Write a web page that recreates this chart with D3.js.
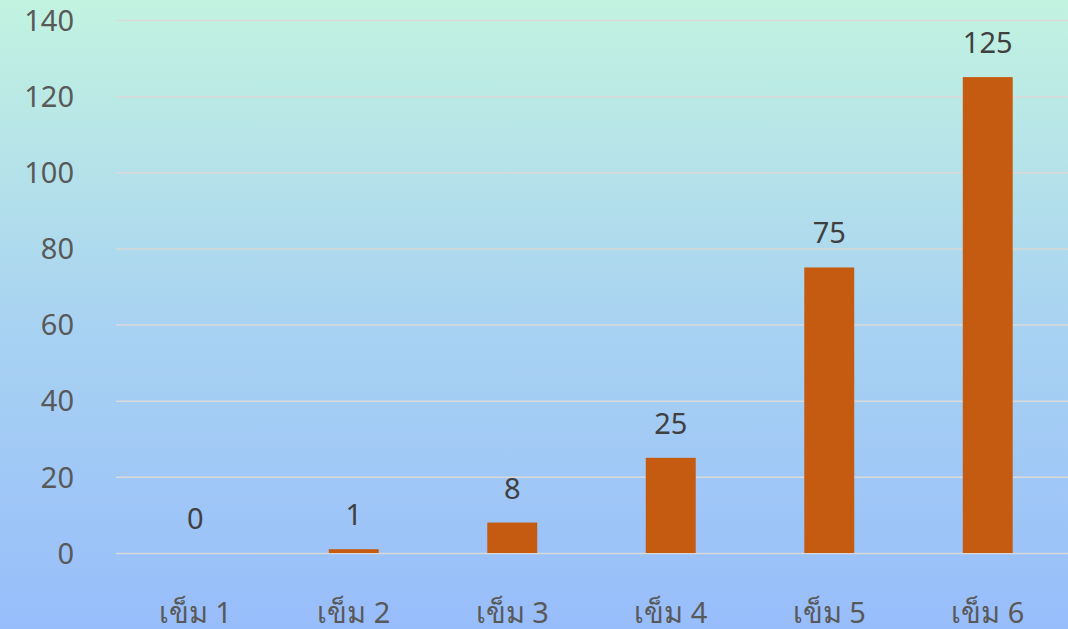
<!DOCTYPE html>
<html>
<head>
<meta charset="utf-8">
<script src="https://cdn.jsdelivr.net/npm/d3@7"></script>
<style>
  html, body { margin: 0; padding: 0; }
  body { width: 1068px; height: 629px; overflow: hidden; }
  svg { display: block; }
  text { font-family: "Noto Sans", "DejaVu Sans", sans-serif; }
</style>
</head>
<body>
<svg id="chart" width="1068" height="629"></svg>
<script>
const categories = ["เข็ม 1", "เข็ม 2", "เข็ม 3", "เข็ม 4", "เข็ม 5", "เข็ม 6"];
const values = [0, 1, 8, 25, 75, 125];
const yTicks = [0, 20, 40, 60, 80, 100, 120, 140];

const W = 1068, H = 629;
const margin = { top: 20, right: 1, bottom: 76, left: 116 };
const svg = d3.select("#chart");

const defs = svg.append("defs");
const grad = defs.append("linearGradient").attr("id", "bg")
  .attr("x1", 0).attr("y1", 0).attr("x2", 0).attr("y2", 1);
grad.append("stop").attr("offset", "0%").attr("stop-color", "#C2F3E0");
grad.append("stop").attr("offset", "50%").attr("stop-color", "#A9D3F1");
grad.append("stop").attr("offset", "100%").attr("stop-color", "#98BDFB");
svg.append("rect").attr("width", W).attr("height", H).attr("fill", "url(#bg)");

const x = d3.scaleBand().domain(categories)
  .range([margin.left, W - margin.right])
  .paddingInner(0.685).paddingOuter(0.3425);
const y = d3.scaleLinear().domain([0, 140]).range([H - margin.bottom, margin.top]);

// gridlines
const grid = svg.append("g")
  .attr("transform", `translate(${margin.left},0)`)
  .call(d3.axisLeft(y).tickValues(yTicks).tickSize(-(W - margin.left)).tickFormat(""));
grid.select(".domain").remove();
grid.selectAll("line").attr("stroke", "#D9D9D9").attr("stroke-width", 1.5);

// y axis labels
const yAxis = svg.append("g")
  .attr("transform", `translate(74,0)`)
  .call(d3.axisLeft(y).tickValues(yTicks).tickSize(0).tickPadding(0));
yAxis.select(".domain").remove();
yAxis.selectAll("text")
  .attr("fill", "#595959").attr("font-size", 29).attr("dy", "0.35em")
  .style("font-family", '"Noto Sans", "DejaVu Sans", sans-serif');

// bars
svg.append("g").selectAll("rect").data(values).join("rect")
  .attr("x", (d, i) => x(categories[i]))
  .attr("width", x.bandwidth())
  .attr("y", d => y(d))
  .attr("height", d => y(0) - y(d))
  .attr("fill", "#C55A11");

// data labels
svg.append("g").selectAll("text").data(values).join("text")
  .attr("x", (d, i) => x(categories[i]) + x.bandwidth() / 2)
  .attr("y", d => y(d) - 24)
  .attr("text-anchor", "middle")
  .attr("font-size", 29)
  .attr("fill", "#404040")
  .text(d => d);

// x axis labels
const xAxis = svg.append("g")
  .attr("transform", `translate(0,${H - margin.bottom})`)
  .call(d3.axisBottom(x).tickSize(0).tickPadding(0));
xAxis.select(".domain").remove();
xAxis.selectAll("text")
  .attr("y", 70).attr("dy", 0)
  .attr("fill", "#595959").attr("font-size", 29)
  .style("font-family", '"Noto Sans", "DejaVu Sans", sans-serif');
</script>
</body>
</html>
